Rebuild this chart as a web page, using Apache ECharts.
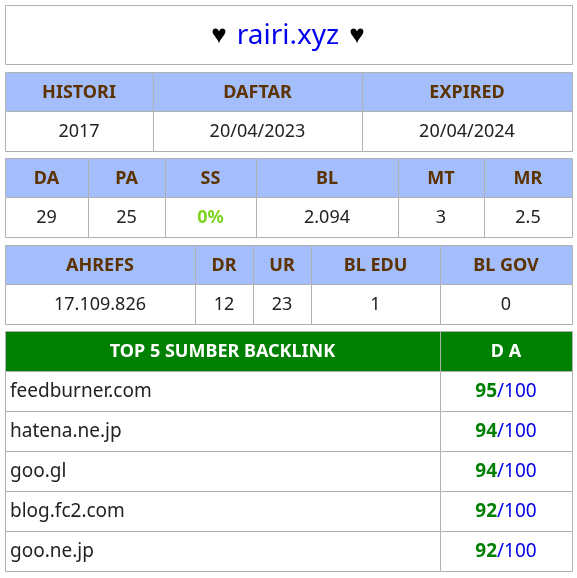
<!DOCTYPE html>
<html><head><meta charset="utf-8">
<script src="https://cdn.jsdelivr.net/npm/echarts@6/dist/echarts.min.js"></script>
<style>html,body{margin:0;padding:0;background:#fff}#c{width:577px;height:578px}</style>
</head><body><div id="c"></div>
<script>
const siteName = "rairi.xyz";
const t1Head = ["HISTORI","DAFTAR","EXPIRED"];
const t1Vals = ["2017","20/04/2023","20/04/2024"];
const t2Head = ["DA","PA","SS","BL","MT","MR"];
const t2Vals = ["29","25","0%","2.094","3","2.5"];
const t3Head = ["AHREFS","DR","UR","BL EDU","BL GOV"];
const t3Vals = ["17.109.826","12","23","1","0"];
const blHead = ["TOP 5 SUMBER BACKLINK","D A"];
const blSites = ["feedburner.com","hatena.ne.jp","goo.gl","blog.fc2.com","goo.ne.jp"];
const blDA = [95,94,94,92,92];

const FONT = '"Noto Sans", Lato, sans-serif';
const BORDER = '#b0b0b0', HEAD = '#a4befc', HEADTXT = '#5c3200';
const els = [];
function cell(x,y,w,h,fill,text,style){
  els.push({type:'rect',shape:{x:x+0.5,y:y+0.5,width:w,height:h},style:{fill:fill,stroke:BORDER,lineWidth:1}});
  if(text!==undefined){
    const al = style && style.align || 'center';
    els.push({type:'text',x: al==='left'? x+5 : x+w/2, y:y+h/2+1,
      style:Object.assign({text:text,align:al,verticalAlign:'middle',font:'18px '+FONT,fill:'#222'},style||{})});
  }
}
cell(5,5,567,59,'#fff');
els.push({type:'text',x:288,y:36,style:{text:'{h|♥}{b|'+siteName+'}{h|♥}',align:'center',verticalAlign:'middle',
  rich:{h:{fontSize:26,fill:'#000',fontFamily:FONT,padding:[0,4,0,4]},b:{fontSize:28,fill:'#0000ee',fontFamily:FONT,padding:[0,6,0,6]}}}});
function table(y,edges,head,vals,special){
  for(let i=0;i<head.length;i++){
    const x=edges[i],w=edges[i+1]-edges[i];
    cell(x,y,w,39,HEAD,head[i],{font:'bold 18px '+FONT,fill:HEADTXT});
    cell(x,y+39,w,40,'#fff',vals[i],special&&special[i]);
  }
}
table(72,[5,153,362,572],t1Head,t1Vals);
table(158,[5,88,165,256,398,484,572],t2Head,t2Vals,{2:{font:'bold 18px '+FONT,fill:'#7ed321'}});
table(245,[5,195,253,311,440,572],t3Head,t3Vals);
cell(5,331,435,40,'#008000',blHead[0],{font:'bold 18px '+FONT,fill:'#fff'});
cell(440,331,132,40,'#008000',blHead[1],{font:'bold 18px '+FONT,fill:'#fff'});
for(let i=0;i<blSites.length;i++){
  const y=371+i*40;
  cell(5,y,435,40,'#fff',blSites[i],{align:'left',font:'19px '+FONT,fill:'#222'});
  cell(440,y,132,40,'#fff');
  els.push({type:'text',x:506,y:y+21,style:{text:'{g|'+blDA[i]+'}{b|/100}',align:'center',verticalAlign:'middle',
    rich:{g:{fontSize:19,fontWeight:'bold',fill:'#008000',fontFamily:FONT},b:{fontSize:19,fill:'#0000ee',fontFamily:FONT}}}});
}
const chart=echarts.init(document.getElementById('c'));
chart.setOption({animation:false,graphic:{elements:els}});
</script></body></html>
